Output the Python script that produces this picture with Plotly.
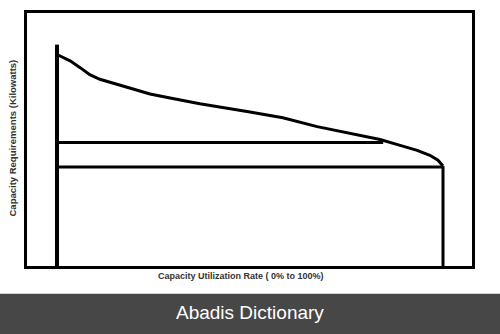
import plotly.graph_objects as go

# Load duration curve (utilization % vs kW)
util_pct = [0, 0.78, 3.4, 6.0, 8.5, 11.1, 13.7, 16.3, 18.9, 21.5, 24.1, 29.3, 37, 50, 58.5, 67.4, 75.9, 83.7, 88.9, 93.3, 96.6, 98.7, 100]
capacity_kw = [83.6, 83.1, 81.1, 78.4, 75.6, 73.8, 72.6, 71.5, 70.3, 69.1, 68.0, 66.4, 64.1, 60.9, 58.6, 55.1, 52.3, 50.0, 47.7, 45.7, 43.75, 41.8, 39.5]

left_x = [0, 0]
left_y = [0, 87.5]
right_x = [100, 100]
right_y = [39.5, 0]
h1_x = [0, 84.5]
h1_y = [48.8, 48.8]
h2_x = [0, 100]
h2_y = [39.1, 39.1]

fig = go.Figure()
line = dict(color="black", width=3)
fig.add_trace(go.Scatter(x=left_x, y=left_y, mode="lines", line=dict(color="black", width=4)))
fig.add_trace(go.Scatter(x=util_pct, y=capacity_kw, mode="lines", line=dict(color="black", width=3)))
fig.add_trace(go.Scatter(x=right_x, y=right_y, mode="lines", line=line))
fig.add_trace(go.Scatter(x=h1_x, y=h1_y, mode="lines", line=line))
fig.add_trace(go.Scatter(x=h2_x, y=h2_y, mode="lines", line=line))

W, H = 500, 334
L, R, T, B = 27, 28, 10, 68
pw, ph = W - L - R, H - T - B

def px(x):
    return (x - L) / pw

def py(y):
    return (H - B - y) / ph

fig.update_layout(
    width=W, height=H,
    margin=dict(l=L, r=R, t=T, b=B, pad=0),
    paper_bgcolor="white", plot_bgcolor="white",
    showlegend=False,
    xaxis=dict(range=[-30 / 3.86, 100 + 29 / 3.86], showgrid=False, zeroline=False,
               showticklabels=False, ticks="", showline=True, mirror=True,
               linecolor="black", linewidth=3),
    yaxis=dict(range=[0, 100], showgrid=False, zeroline=False,
               showticklabels=False, ticks="", showline=True, mirror=True,
               linecolor="black", linewidth=3),
    shapes=[dict(type="rect", xref="paper", yref="paper",
                 x0=px(0), x1=px(W), y0=py(294), y1=py(H + 2),
                 fillcolor="#474747", line=dict(width=0), layer="above")],
    annotations=[
        dict(text="<b>Capacity Requirements (Kilowatts)</b>", xref="paper", yref="paper",
             x=px(13), y=py(137), textangle=-90, showarrow=False,
             font=dict(family="Liberation Sans, Arial", size=9.5, color="#333333"),
             xanchor="center", yanchor="middle"),
        dict(text="<b>Capacity Utilization Rate ( 0% to 100%)</b>", xref="paper", yref="paper",
             x=px(241), y=py(276), showarrow=False,
             font=dict(family="Liberation Sans, Arial", size=9, color="#333333"),
             xanchor="center", yanchor="middle"),
        dict(text="Abadis Dictionary", xref="paper", yref="paper",
             x=px(250), y=py(313), showarrow=False,
             font=dict(family="Liberation Sans, Arial", size=19, color="white"),
             xanchor="center", yanchor="middle"),
    ],
)

fig.write_html("out.html")
